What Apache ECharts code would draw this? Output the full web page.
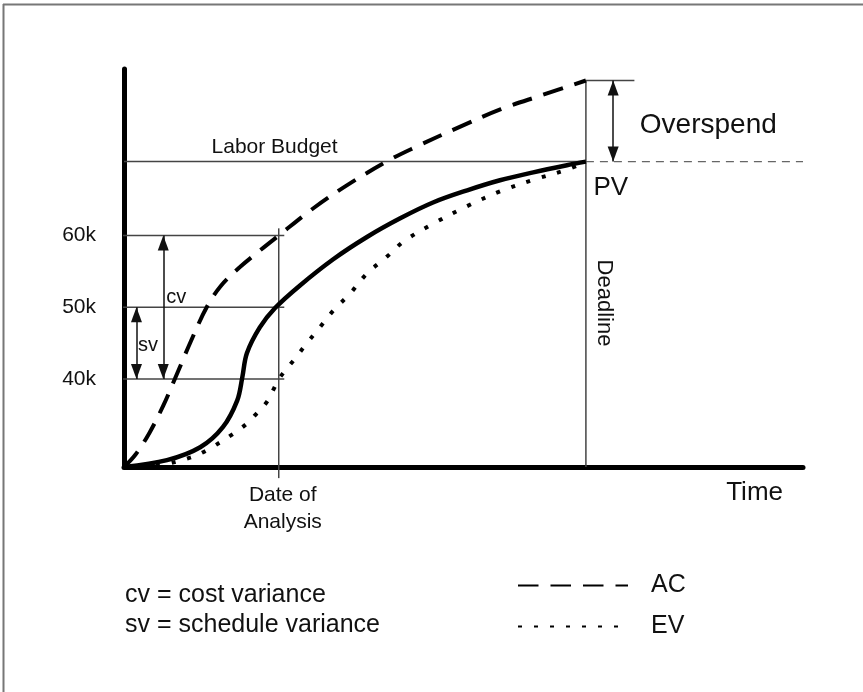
<!DOCTYPE html>
<html>
<head>
<meta charset="utf-8">
<title>Earned value: PV, AC and EV over time</title>
<script src="https://cdn.jsdelivr.net/npm/echarts@6/dist/echarts.min.js"></script>
<style>
  html, body { margin: 0; padding: 0; background: #fff; }
  #chart { width: 863px; height: 692px; }
</style>
</head>
<body>
<div id="chart"></div>
<script>
// Time runs in schedule units (deadline = 100); cost is in thousands.
const timeStart = 0;
const timeEnd = 147;
const costFloor = 27.75;
const costCeil = 83.2;

const dateOfAnalysis = 33.5;
const deadline = 100;
const laborBudget = 70.3;
const finalActualCost = 81.6;
const levelValues = [40, 50, 60];

// Planned value (solid S-curve)
const pvTime = [0, 9.3, 16.5, 21.4, 24.5, 25.6, 26.6, 29.4, 32.7, 38.1, 45.3, 52.6, 59.8, 66.9, 74.3, 81.4, 88.6, 95.9, 100];
const pvCost = [27.75, 28.7, 30.5, 33.3, 37.0, 40.2, 43.6, 47.2, 49.9, 53.05, 56.7, 59.8, 62.4, 64.6, 66.3, 67.7, 68.8, 69.8, 70.3];

// Actual cost (dashed)
const acTime = [0, 2.5, 5.5, 8.5, 11.0, 14.5, 17.9, 21.0, 25.1, 29.4, 33.5, 41.0, 49.0, 57.7, 62.7, 72.2, 81.6, 90.2, 100];
const acCost = [27.75, 29.5, 32.5, 36.3, 40.0, 45.3, 50.0, 53.0, 55.6, 57.9, 60.0, 63.8, 67.3, 70.6, 72.2, 75.0, 77.6, 79.5, 81.6];

// Earned value (dotted)
const evTime = [0, 7.7, 14.3, 17.9, 23.7, 26.6, 28.7, 30.9, 32.4, 33.5, 36.7, 39.6, 42.5, 45.4, 49.0, 52.6, 57.0, 60.6, 67.1, 74.3, 81.6, 88.8, 96.0, 100];
const evCost = [27.75, 28.0, 29.06, 30.08, 32.4, 33.8, 35.2, 36.8, 38.6, 40.0, 42.6, 45.0, 47.3, 49.6, 51.95, 54.7, 57.1, 59.2, 61.7, 64.1, 66.2, 67.8, 69.2, 70.3];

const pair = (xs, ys) => xs.map((x, i) => [x, ys[i]]);

const FONT = '"Liberation Sans", Arial, Helvetica, sans-serif';
const INK = '#111';
const GUIDE = '#444';

function guide(points, dashed) {
  return {
    type: 'line',
    data: points,
    silent: true,
    clip: false,
    symbol: 'none',
    animation: false,
    z: 1,
    lineStyle: { color: dashed ? '#666' : GUIDE, width: dashed ? 1.3 : 1.5, type: dashed ? [8, 6] : 'solid' }
  };
}

// Horizontal reference lines at the labelled cost levels, starting left of the axis
const levelGuides = levelValues.map(v => guide([[-4.7, v], [34.7, v]]));

// Text notes placed in data coordinates
const notes = [
  { text: 'Labor Budget', at: [32.6, 72.35], size: 21 },
  { text: 'Overspend', at: [126.5, 75.3], size: 28 },
  { text: 'PV', at: [105.4, 66.6], size: 26 },
  { text: 'Deadline', at: [103.9, 50.6], size: 22, rotate: -90 },
  { text: 'cv', at: [11.3, 51.4], size: 20 },
  { text: 'sv', at: [5.2, 44.7], size: 20 }
];

// Double-headed variance arrows
const arrows = [
  [[8.5, 60], [8.5, 40]],
  [[2.7, 50], [2.7, 40]],
  [[105.9, finalActualCost], [105.9, laborBudget]]
];

function curve(name, xs, ys, lineStyle) {
  return {
    name,
    type: 'line',
    data: pair(xs, ys),
    smooth: 0.35,
    symbol: 'none',
    z: 3,
    itemStyle: { color: '#000' },
    lineStyle: Object.assign({ color: '#000' }, lineStyle)
  };
}

const chart = echarts.init(document.getElementById('chart'), null, { renderer: 'canvas' });

chart.setOption({
  animation: false,
  backgroundColor: '#fff',
  textStyle: { fontFamily: FONT, color: INK },
  title: {
    text: 'cv = cost variance\nsv = schedule variance',
    left: 125,
    top: 580,
    padding: 0,
    textStyle: { fontFamily: FONT, fontSize: 25, fontWeight: 'normal', lineHeight: 30, color: INK }
  },
  legend: {
    data: ['AC', 'EV'],
    orient: 'vertical',
    left: 517,
    top: 573,
    padding: 0,
    itemWidth: 110,
    itemHeight: 20,
    itemGap: 16,
    selectedMode: false,
    itemStyle: { opacity: 0 },
    textStyle: { fontFamily: FONT, fontSize: 25, color: INK, padding: [0, 0, 0, 18] }
  },
  grid: { left: 124, right: 60, top: 69, bottom: 225, containLabel: false, outerBoundsMode: 'none' },
  xAxis: {
    type: 'value',
    min: timeStart,
    max: timeEnd,
    axisLine: { show: true, onZero: false, lineStyle: { color: '#000', width: 5 } },
    axisTick: { show: false },
    splitLine: { show: false },
    axisLabel: {
      customValues: [dateOfAnalysis],
      formatter: () => 'Date of\nAnalysis',
      margin: 15,
      fontFamily: FONT,
      fontSize: 21,
      lineHeight: 27,
      color: INK,
      padding: [0, 0, 0, 8]
    },
    name: 'Time',
    nameLocation: 'end',
    nameGap: -20,
    nameTextStyle: { fontFamily: FONT, fontSize: 26, color: INK, align: 'right', verticalAlign: 'top', padding: [13, 0, 0, 0] }
  },
  yAxis: {
    type: 'value',
    min: costFloor,
    max: costCeil,
    axisLine: { show: true, onZero: false, lineStyle: { color: '#000', width: 5 } },
    axisTick: { show: false },
    splitLine: { show: false },
    axisLabel: {
      customValues: levelValues,
      formatter: v => v + 'k',
      margin: 28,
      fontFamily: FONT,
      fontSize: 21,
      color: INK
    }
  },
  graphic: [
    { type: 'line', silent: true, shape: { x1: 3, y1: 4.5, x2: 863, y2: 4.5 }, style: { stroke: '#777', lineWidth: 2 } },
    { type: 'line', silent: true, shape: { x1: 3.5, y1: 4, x2: 3.5, y2: 692 }, style: { stroke: '#777', lineWidth: 2 } }
  ],
  series: [
    guide([[timeStart, laborBudget], [deadline, laborBudget]]),
    guide([[deadline, laborBudget], [timeEnd, laborBudget]], true),
    ...levelGuides,
    guide([[dateOfAnalysis, 26.2], [dateOfAnalysis, 61.0]]),
    guide([[deadline, costFloor], [deadline, finalActualCost]]),
    guide([[deadline, finalActualCost], [110.5, finalActualCost]]),
    curve('PV', pvTime, pvCost, { width: 4.5 }),
    curve('AC', acTime, acCost, { width: 4, type: [20.5, 12] }),
    curve('EV', evTime, evCost, { width: 4, type: [4, 12] }),
    {
      name: 'arrows',
      type: 'line',
      data: [],
      silent: true,
      markLine: {
        silent: true,
        animation: false,
        symbol: ['triangle', 'triangle'],
        symbolSize: [11, 15],
        symbolOffset: [[0, 7.5], [0, 7.5]],
        label: { show: false },
        lineStyle: { color: '#111', width: 1.5, type: 'solid' },
        emphasis: { disabled: true },
        data: arrows.map(([a, b]) => [{ coord: a }, { coord: b }])
      }
    },
    {
      name: 'notes',
      type: 'scatter',
      silent: true,
      symbolSize: 0,
      itemStyle: { color: '#000', opacity: 1 },
      z: 5,
      data: notes.map(n => ({
        value: n.at,
        label: {
          show: true,
          position: 'inside',
          formatter: n.text,
          fontFamily: FONT,
          fontSize: n.size,
          color: INK,
          opacity: 1,
          textBorderWidth: 0,
          rotate: n.rotate || 0
        }
      }))
    }
  ]
});
</script>
</body>
</html>
